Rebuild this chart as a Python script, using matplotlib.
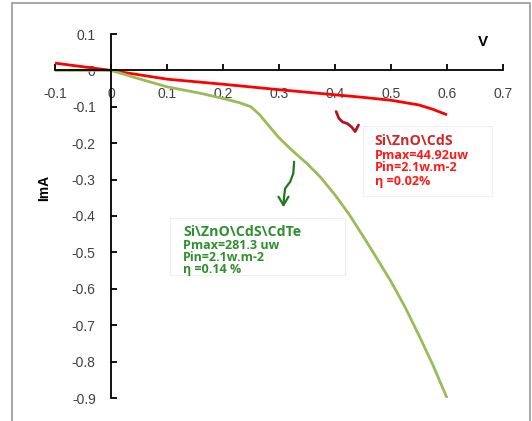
import numpy as np
import matplotlib
matplotlib.use("Agg")
import matplotlib.pyplot as plt
from matplotlib.patches import Rectangle

# I-V curves
v_cds = [-0.1, 0.0, 0.1, 0.2, 0.3, 0.4, 0.45, 0.5, 0.55, 0.575, 0.6]
i_cds = [0.02, 0.0, -0.024, -0.038, -0.053, -0.067, -0.074, -0.082, -0.095, -0.107, -0.122]

v_cdte = [-0.1, -0.05, 0.0, 0.05, 0.1, 0.16, 0.2, 0.23, 0.25, 0.265, 0.285, 0.3,
          0.325, 0.35, 0.375, 0.4, 0.425, 0.45, 0.475, 0.5, 0.525, 0.55, 0.575, 0.6]
i_cdte = [0.0, 0.0, 0.0, -0.023, -0.045, -0.063, -0.077, -0.089, -0.1, -0.121, -0.158, -0.185,
          -0.222, -0.256, -0.295, -0.342, -0.395, -0.455, -0.517, -0.58, -0.65, -0.728, -0.81, -0.9]

x_ticks = [-0.1, 0.0, 0.1, 0.2, 0.3, 0.4, 0.5, 0.6, 0.7]
x_labels = ["-0.1", "0", "0.1", "0.2", "0.3", "0.4", "0.5", "0.6", "0.7"]
y_ticks = [0.1, 0.0, -0.1, -0.2, -0.3, -0.4, -0.5, -0.6, -0.7, -0.8, -0.9]
y_labels = ["0.1", "0", "-0.1", "-0.2", "-0.3", "-0.4", "-0.5", "-0.6", "-0.7", "-0.8", "-0.9"]

cds_text = ["Si\\ZnO\\CdS", "Pmax=44.92uw", "Pin=2.1w.m-2", "η =0.02%"]
cdte_text = ["Si\\ZnO\\CdS\\CdTe", "Pmax=281.3 uw", "Pin=2.1w.m-2", "η =0.14 %"]

plt.rcParams["font.family"] = ["Liberation Sans", "DejaVu Sans"]

fig = plt.figure(figsize=(5.32, 4.21), dpi=100)
fig.patches.append(Rectangle((12 / 532, -0.01), 518 / 532, 1 - 3 / 421 + 0.01,
                             transform=fig.transFigure, fill=False,
                             edgecolor="#999999", lw=1.2))
ax = fig.add_axes([55 / 532, 23 / 421, 448 / 532, 364 / 421])

ax.plot(v_cds, i_cds, color="#ff0000", lw=2.0, solid_capstyle="butt",
        solid_joinstyle="round")
ax.plot(v_cdte, i_cdte, color="#9bbb59", lw=2.0, solid_capstyle="butt",
        solid_joinstyle="round")

ax.set_xlim(-0.1, 0.7)
ax.set_ylim(-0.9, 0.1)
for s in ["top", "right"]:
    ax.spines[s].set_visible(False)
ax.spines["left"].set_position(("data", 0))
ax.spines["bottom"].set_position(("data", 0))
ax.spines["left"].set_linewidth(1.3)
ax.spines["bottom"].set_linewidth(1.3)

ax.set_xticks(x_ticks)
ax.set_xticklabels(x_labels)
ax.set_yticks(y_ticks)
ax.set_yticklabels(y_labels)
ax.tick_params(axis="x", direction="in", length=4, width=1.3, pad=12,
               labelsize=10, labelcolor="#404040")
ax.tick_params(axis="y", direction="in", length=4, width=1.3, pad=11,
               labelsize=10, labelcolor="#404040")

ax.text(0.665, 0.078, "V", fontsize=11, fontweight="bold", ha="center", va="center")
fig.text(44 / 532, 1 - 188 / 421, "ImA", fontsize=10, fontweight="bold",
         rotation=90, ha="center", va="center")

# red hand-drawn pointer
ax.plot([0.402, 0.407, 0.414, 0.422, 0.430, 0.436, 0.442],
        [-0.113, -0.132, -0.142, -0.146, -0.156, -0.168, -0.150],
        color="#b0141e", lw=2.0, solid_joinstyle="round", solid_capstyle="round")

# green hand-drawn arrow
ax.plot([0.327, 0.3255, 0.320, 0.311, 0.309, 0.308],
        [-0.251, -0.283, -0.306, -0.324, -0.347, -0.370],
        color="#1f7a1f", lw=1.6, solid_capstyle="round", solid_joinstyle="round")
ax.plot([0.299, 0.308, 0.317], [-0.347, -0.370, -0.347],
        color="#1f7a1f", lw=1.6, solid_capstyle="round", solid_joinstyle="round")

ax.add_patch(Rectangle((0.45, -0.345), 0.23, 0.192, fill=True, facecolor="white",
                       edgecolor="#eeeeee", lw=0.8, zorder=1))
ax.add_patch(Rectangle((0.105, -0.562), 0.313, 0.157, fill=True, facecolor="white",
                       edgecolor="#eeeeee", lw=0.8, zorder=1))

red_y = [-0.194, -0.235, -0.268, -0.304]
red_c = ["#d02828", "#ff1a1a", "#ff1a1a", "#ff1a1a"]
for k, (t, y, c) in enumerate(zip(cds_text, red_y, red_c)):
    ax.text(0.471, y, t, fontsize=10.2 if k == 0 else 9.1, color=c,
            fontweight="bold", ha="left", va="center",
            family=["Open Sans", "DejaVu Sans"], zorder=3)

green_y = [-0.444, -0.48, -0.513, -0.548]
for k, (t, y) in enumerate(zip(cdte_text, green_y)):
    ax.text(0.129, y, t, fontsize=10.2 if k == 0 else 9.0, color="#2f8f2f",
            fontweight="bold", ha="left", va="center",
            family=["Open Sans", "DejaVu Sans"], zorder=3)

fig.savefig("out.png", dpi=100)
